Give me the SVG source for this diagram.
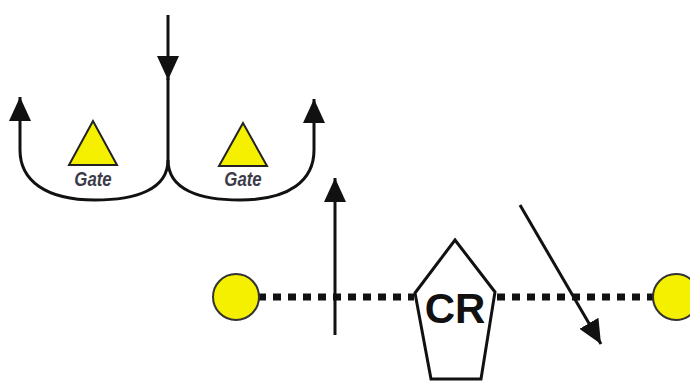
<svg xmlns="http://www.w3.org/2000/svg" width="690" height="381" viewBox="0 0 690 381">
<style>
.ln{fill:none;stroke:#111;stroke-width:3}
.gate{fill:#f5ef00;stroke:#222;stroke-width:2}
.gt{font-family:"Liberation Sans",Arial,sans-serif;font-weight:bold;font-style:italic;font-size:21px;fill:#3c3c48;text-anchor:middle}
.cr{font-family:"Liberation Sans",Arial,sans-serif;font-weight:bold;font-size:42px;fill:#111;text-anchor:middle}
.dot{fill:none;stroke:#111;stroke-width:7;stroke-dasharray:8 7}
</style>
<defs>
<marker id="ah" viewBox="0 0 24 22" refX="24" refY="11" markerWidth="24" markerHeight="22" markerUnits="userSpaceOnUse" orient="auto">
<path d="M0,0 L24,11 L0,22 Z" fill="#111"/>
</marker>
</defs>
<rect width="690" height="381" fill="#fff"/>
<g id="connectors">
<path class="dot" d="M258,297 H414"/>
<path class="dot" d="M497,297 H653"/>
<path class="ln" d="M168,15 V80" marker-end="url(#ah)"/>
<path class="ln" d="M168,78 V160"/>
<path class="ln" d="M168,160 C168,190 135,200 95,200 C45,200 20,180 20,150 V97" marker-end="url(#ah)"/>
<path class="ln" d="M168,160 C168,190 200,200 240,200 C290,200 314,180 314,150 V99" marker-end="url(#ah)"/>
<path class="ln" d="M335,335 V178" marker-end="url(#ah)"/>
<path class="ln" d="M520,205 L601,344" marker-end="url(#ah)"/>
</g>
<g id="gate-left">
<polygon class="gate" points="93,121 69,165 117,165"/>
<text class="gt" transform="translate(93,186) scale(0.8,1)">Gate</text>
</g>
<g id="gate-right">
<polygon class="gate" points="243,123 219,166 267,166"/>
<text class="gt" transform="translate(243,186) scale(0.8,1)">Gate</text>
</g>
<g id="circle-left">
<circle cx="236" cy="297" r="23" fill="#f5ef00" stroke="#333" stroke-width="2"/>
</g>
<g id="circle-right">
<circle cx="676" cy="297" r="23" fill="#f5ef00" stroke="#333" stroke-width="2"/>
</g>
<g id="cr">
<polygon points="455,240 495,292 481,379 431,379 415,293" fill="#fff" stroke="#111" stroke-width="3"/>
<text class="cr" x="455" y="323">CR</text>
</g>
</svg>
